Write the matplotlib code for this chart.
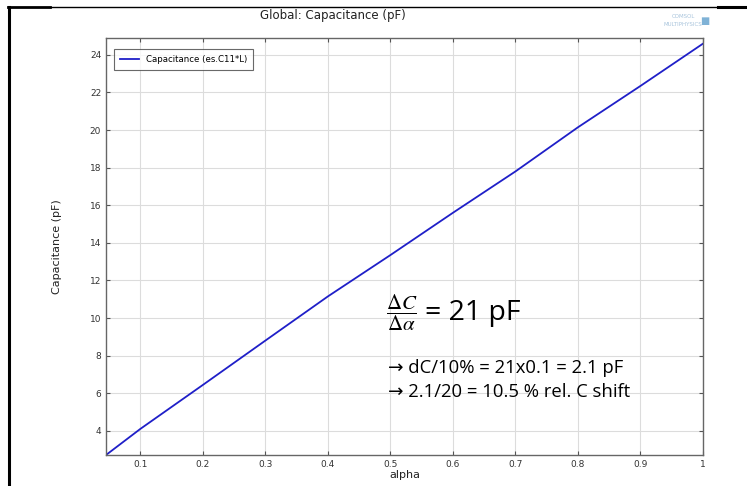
import matplotlib
matplotlib.use("Agg")
import matplotlib.pyplot as plt
from matplotlib.lines import Line2D

alpha = [0.045, 0.1, 0.2, 0.3, 0.4, 0.5, 0.6, 0.7, 0.8, 0.9, 1.0]
cap = [2.71, 4.1, 6.44, 8.8, 11.15, 13.35, 15.6, 17.8, 20.15, 22.35, 24.6]

xticks = [0.1, 0.2, 0.3, 0.4, 0.5, 0.6, 0.7, 0.8, 0.9, 1.0]
xticklabels = ["0.1", "0.2", "0.3", "0.4", "0.5", "0.6", "0.7", "0.8", "0.9", "1"]
yticks = [4, 6, 8, 10, 12, 14, 16, 18, 20, 22, 24]

plt.rcParams['font.family'] = ['DejaVu Sans']
plt.rcParams['mathtext.fontset'] = 'stix'

W, H = 747, 486
fig = plt.figure(figsize=(W / 100, H / 100), dpi=100)
ax = fig.add_axes([106 / W, 1 - 455 / H, (703 - 106) / W, (455 - 38) / H])

ax.plot(alpha, cap, color="#1f1fc8", linewidth=1.3, label="Capacitance (es.C11*L)")
ax.set_xlim(0.045, 1.0)
ax.set_ylim(2.71, 24.9)
ax.set_xticks(xticks)
ax.set_xticklabels(xticklabels)
ax.set_yticks(yticks)
ax.grid(True, color="#dcdcdc", linewidth=0.8)
ax.tick_params(direction="in", top=True, right=True, labelsize=6.5,
               labelcolor="#333333", color="#555555", length=3)
for s in ax.spines.values():
    s.set_color("#666666")
    s.set_linewidth(1.0)

ax.set_xlabel("alpha", fontsize=8, color="#222222", labelpad=1)
ax.set_ylabel("Capacitance (pF)", fontsize=8, color="#222222", labelpad=20)
leg = ax.legend(loc="upper left", fontsize=6.2, frameon=True, fancybox=False,
                edgecolor="#444444", borderpad=0.7, handlelength=2.2,
                bbox_to_anchor=(0.006, 0.985))
leg.get_frame().set_linewidth(0.8)

fig.text(333 / W, 1 - 16 / H, "Global: Capacitance (pF)", ha="center", va="center",
         fontsize=8.5, color="#222222")
fig.text(683 / W, 1 - 17 / H, "COMSOL", ha="center", va="center",
         fontsize=4, color="#a8c4dc")
fig.text(683 / W, 1 - 25 / H, "MULTIPHYSICS", ha="center", va="center",
         fontsize=4, color="#a8c4dc")
fig.text(700 / W, 1 - 21 / H, "\u25A0", ha="left", va="center",
         fontsize=7, color="#7fb2d6")

# annotation
sans = ["Open Sans", "DejaVu Sans"]
fig.text(386 / W, 1 - 313 / H, r"$\dfrac{\Delta C}{\Delta \alpha}$",
         ha="left", va="center", fontsize=15)
fig.text(425 / W, 1 - 313 / H, "= 21 pF", ha="left", va="center", fontsize=20.5,
         family=sans)
fig.text(388 / W, 1 - 368 / H, "\u2192 dC/10% = 21x0.1 = 2.1 pF", ha="left", va="center",
         fontsize=13.3, family=sans)
fig.text(388 / W, 1 - 392 / H, "\u2192 2.1/20 = 10.5 % rel. C shift", ha="left", va="center",
         fontsize=13.3, family=sans)

# page frame lines
def fl(x0, y0, x1, y1, lw):
    fig.add_artist(Line2D([x0 / W, x1 / W], [1 - y0 / H, 1 - y1 / H],
                          color="black", linewidth=lw, transform=fig.transFigure))

fl(9, 7, 9, 486, 2.2)
fl(8, 7, 50, 7, 2.0)
fl(50, 7, 718, 7, 1.0)
fl(718, 7, 747, 7, 2.2)

fig.savefig("out.png", dpi=100)
